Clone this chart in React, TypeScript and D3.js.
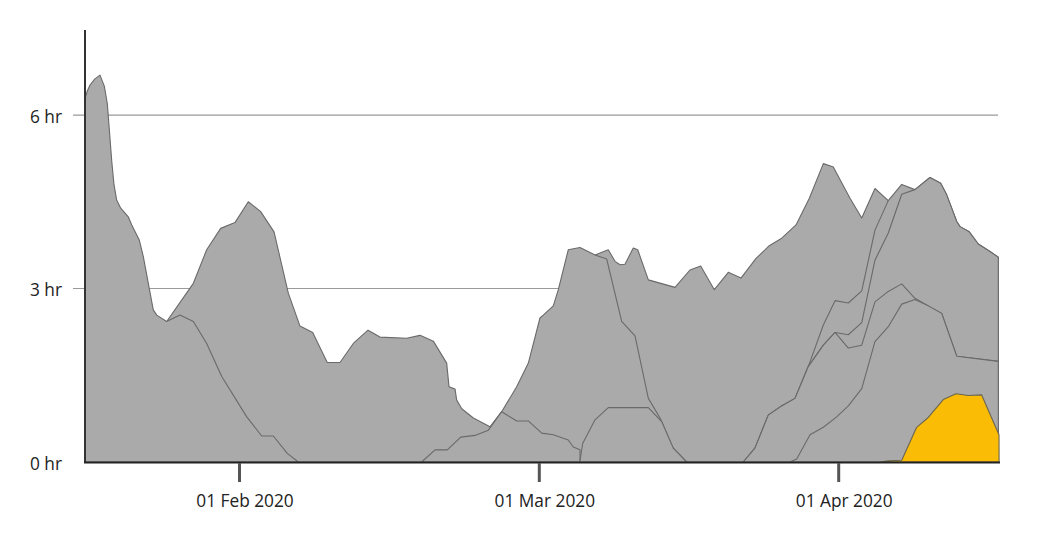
import React from "react";
import * as d3 from "d3";

// Day offsets are days since 2020-01-16; values are hours.
const START = new Date(2020, 0, 16);

const seriesA: [number, number][] = [
  [0, 6.29], [0.25, 6.42], [0.52, 6.52], [1.0, 6.62], [1.55, 6.69], [2.0, 6.5], [2.31, 6.2], [2.54, 5.7], [2.77, 5.2], [3.0, 4.8],
  [3.28, 4.53], [3.7, 4.39], [4.48, 4.24], [4.84, 4.1], [5.62, 3.84], [6.04, 3.55], [7.07, 2.63],
  [7.43, 2.54], [8.46, 2.43], [9.84, 2.54], [11.22, 2.43], [12.6, 2.05], [14.16, 1.48], [16.7, 0.78],
  [18.15, 0.45], [19.27, 0.45], [20.62, 0.15], [21.69, 0],
];

const seriesB: [number, number][] = [
  [8.46, 2.43], [11.22, 3.09], [12.6, 3.67], [14.05, 4.04], [15.53, 4.14], [16.85, 4.5], [18.05, 4.33],
  [19.34, 3.98], [20.72, 2.92], [21.85, 2.35], [23.08, 2.24], [24.49, 1.72], [25.72, 1.72], [27.01, 2.05],
  [28.43, 2.28], [29.59, 2.16], [32.17, 2.14], [33.46, 2.19], [34.75, 2.09], [36.04, 1.71], [36.27, 1.3],
  [36.85, 1.26], [37.01, 1.07], [37.5, 0.92], [38.62, 0.76], [40.23, 0.61], [41.36, 0.87], [42.81, 1.3],
  [43.94, 1.71], [45.07, 2.49], [45.41, 2.54], [46.45, 2.7], [46.97, 2.98], [48.0, 3.67], [49.21, 3.71],
  [50.77, 3.58], [51.98, 3.51], [53.53, 2.43], [54.91, 2.18], [56.29, 1.1], [57.5, 0.76], [58.87, 0.24],
  [60.26, 0],
];

const seriesC: [number, number][] = [
  [33.62, 0], [34.91, 0.21], [36.1, 0.21], [37.4, 0.43], [38.78, 0.46], [40.07, 0.55], [41.36, 0.87],
  [42.81, 0.71], [43.94, 0.71], [45.25, 0.5], [46.45, 0.47], [48.0, 0.38], [48.52, 0.26], [49.21, 0.21],
  [49.22, 0],
];

const seriesD: [number, number][] = [
  [49.2, 0], [49.49, 0.32], [50.77, 0.73], [52.14, 0.94], [56.29, 0.94], [57.67, 0.7], [58.87, 0.24],
  [60.26, 0],
];

const seriesF: [number, number][] = [
  [49.21, 0], [50.77, 3.58], [52.14, 3.67], [52.84, 3.47], [53.36, 3.41], [53.87, 3.42], [54.73, 3.7],
  [55.19, 3.67], [56.29, 3.15], [59.05, 3.02], [60.6, 3.32], [61.71, 3.39], [63.12, 2.98], [64.57, 3.28],
  [65.88, 3.18], [67.44, 3.52], [68.81, 3.74], [70.1, 3.87], [71.58, 4.1], [72.96, 4.56], [74.41, 5.16],
  [75.44, 5.1], [77.13, 4.56], [78.3, 4.22], [79.62, 4.73], [80.95, 4.52], [80.96, 0],
];

const seriesG: [number, number][] = [
  [66.12, 0], [67.33, 0.24], [68.71, 0.81], [70.1, 0.97], [71.48, 1.1], [72.85, 1.65], [74.41, 2.37],
  [75.62, 2.79], [76.96, 2.75], [78.3, 2.96], [79.62, 4.01], [80.95, 4.52], [82.29, 4.8], [83.61, 4.71],
  [85.11, 4.92], [86.18, 4.82], [86.78, 4.62], [87.78, 4.16], [88.11, 4.07], [89.03, 3.98], [89.93, 3.77],
  [91.1, 3.64], [91.93, 3.54], [91.94, 0],
];

const seriesH: [number, number][] = [
  [66.12, 0], [67.33, 0.24], [68.71, 0.81], [70.1, 0.97], [71.48, 1.1], [72.85, 1.65], [74.41, 2.02],
  [75.62, 2.24], [76.96, 2.2], [78.3, 2.41], [79.62, 3.49], [80.95, 3.96], [82.29, 4.63], [83.61, 4.71],
  [85.11, 4.92], [86.18, 4.82], [86.78, 4.62], [87.78, 4.16], [88.11, 4.07], [89.03, 3.98], [89.93, 3.77],
  [91.1, 3.64], [91.93, 3.54], [91.94, 0],
];

const seriesI: [number, number][] = [
  [66.12, 0], [67.33, 0.24], [68.71, 0.81], [70.1, 0.97], [71.48, 1.1], [72.85, 1.65], [74.41, 2.02],
  [75.62, 2.24], [76.96, 1.97], [78.3, 2.02], [79.62, 2.77], [80.95, 2.95], [82.29, 3.08], [83.61, 2.83],
  [84.94, 2.7], [86.28, 2.57], [87.78, 1.83], [91.93, 1.74], [91.94, 0],
];

const seriesJ: [number, number][] = [
  [70.96, 0], [71.65, 0.05], [73.03, 0.47], [74.41, 0.6], [75.79, 0.78], [76.96, 0.97], [78.3, 1.27],
  [79.62, 2.08], [80.95, 2.34], [82.29, 2.73], [83.61, 2.81], [84.94, 2.7], [86.28, 2.57], [87.78, 1.83],
  [91.93, 1.74], [91.94, 0],
];

const seriesHighlight: [number, number][] = [
  [80.12, 0], [80.95, 0.02], [82.29, 0.03], [83.78, 0.6], [84.94, 0.77], [86.44, 1.08], [87.71, 1.18],
  [88.93, 1.15], [90.27, 1.16], [92.0, 0.47], [92.01, 0],
];

// drawing order (back to front)
const grayLayers = [seriesF, seriesB, seriesA, seriesC, seriesD, seriesG, seriesH, seriesI, seriesJ];

const yTicks = [0, 3, 6];
const yTickLabels = ["0 hr", "3 hr", "6 hr"];
const xTicks = [new Date(2020, 1, 1), new Date(2020, 2, 1), new Date(2020, 3, 1)];
const xTickLabels = ["01 Feb 2020", "01 Mar 2020", "01 Apr 2020"];

const toDate = (d: number) => new Date(START.getTime() + d * 864e5);

export default function App() {
  const width = 1063;
  const height = 540;

  const x = d3
    .scaleTime()
    .domain([START, new Date(2020, 1, 1), new Date(2020, 2, 1), new Date(2020, 3, 1), new Date(2020, 3, 17)])
    .range([85, 239.5, 539.3, 838.7, 999]);
  const y = d3.scaleLinear().domain([0, 7.5]).range([462, 28.3]);

  const area = d3
    .area<[number, number]>()
    .x((d) => x(toDate(d[0])))
    .y0(y(0))
    .y1((d) => y(d[1]));

  const font = "'Open Sans', 'Noto Sans', sans-serif";

  return (
    <div style={{ position: "fixed", left: 0, top: 0 }}>
      <svg width={width} height={height} style={{ display: "block" }}>
        <rect width={width} height={height} fill="#ffffff" />
        {yTicks.slice(1).map((t) => (
          <line key={t} x1={73} x2={998} y1={y(t)} y2={y(t)} stroke="#9a9a9a" strokeWidth={1.2} />
        ))}
        {grayLayers.map((s, i) => (
          <path
            key={i}
            d={area(s) || ""}
            fill="#aaaaaa"
            stroke="#6a6a6a"
            strokeWidth={1.1}
            strokeLinejoin="round"
          />
        ))}
        <path
          d={area(seriesHighlight) || ""}
          fill="#fbbc05"
          stroke="#6b6650"
          strokeWidth={1.1}
          strokeLinejoin="round"
        />
        <line x1={85} x2={85} y1={30} y2={463} stroke="#333" strokeWidth={2} />
        <line x1={84} x2={1000} y1={462.5} y2={462.5} stroke="#222" strokeWidth={2} />
        {xTicks.map((t, i) => (
          <g key={i}>
            <line x1={x(t)} x2={x(t)} y1={463} y2={482} stroke="#555" strokeWidth={3} />
            <text
              x={x(t) + 5.5}
              y={506.5}
              textAnchor="middle"
              fontFamily={font}
              fontSize={17.3}
              fill="#222"
            >
              {xTickLabels[i]}
            </text>
          </g>
        ))}
        {yTicks.map((t, i) => (
          <text
            key={t}
            x={62}
            y={y(t) + 7.5}
            textAnchor="end"
            fontFamily={font}
            fontSize={17.3}
            fill="#222"
          >
            {yTickLabels[i]}
          </text>
        ))}
      </svg>
    </div>
  );
}
